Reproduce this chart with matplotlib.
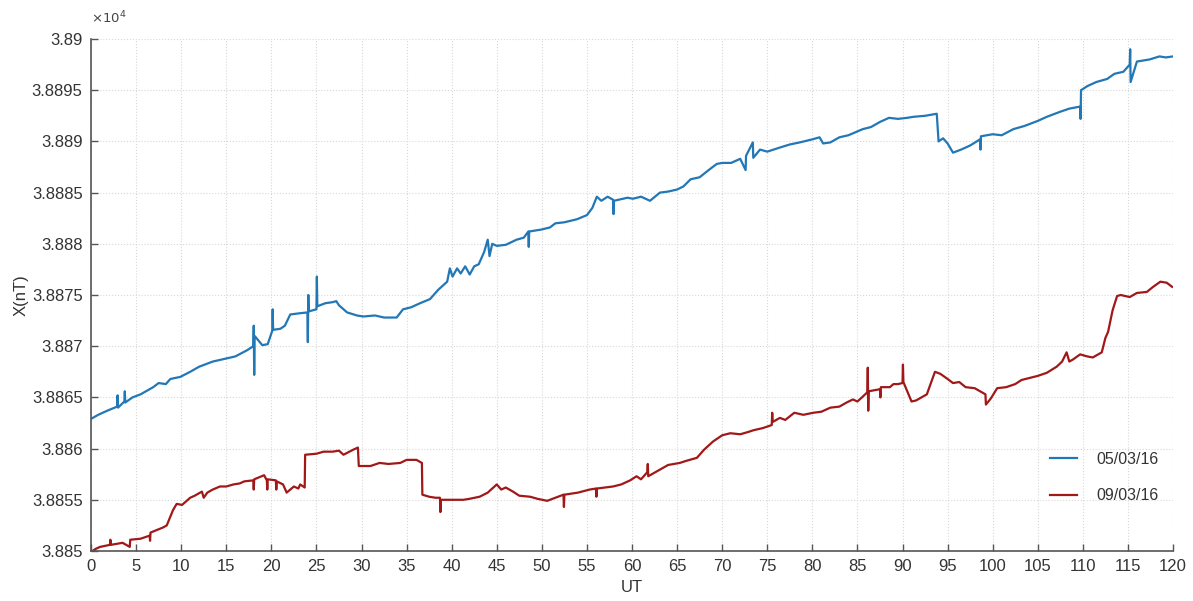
import matplotlib
matplotlib.use("Agg")
import matplotlib.pyplot as plt
from matplotlib.ticker import FuncFormatter, MultipleLocator

# ---- data (UT hours, X component in nT) ----
t_0503 = [0.0, 0.8, 1.8, 2.9, 2.95, 3.0, 3.7, 3.75, 3.8, 4.6, 5.5, 6.5, 6.9, 7.5, 8.3, 8.8, 9.9,
          11.0, 12.0, 13.5, 15.0, 16.0, 17.3, 18.0, 18.05, 18.1, 18.15, 19.0, 19.6, 20.1, 20.15, 20.2,
          21.0, 21.5, 22.1, 23.0, 24.0, 24.05, 24.1, 24.15, 25.0, 25.05, 25.1, 26.0, 26.8, 27.2, 27.5,
          28.4, 29.5, 30.2, 31.5, 32.5, 33.9, 34.6, 35.5, 36.5, 37.6, 38.5, 39.5, 39.8, 40.1, 40.6,
          41.0, 41.5, 42.0, 42.5, 43.0, 43.6, 44.0, 44.2, 44.5, 45.0, 46.0, 47.2, 48.0, 48.5, 48.55,
          48.6, 50.0, 50.9, 51.5, 52.5, 53.9, 55.0, 55.6, 56.1, 56.6, 57.3, 57.9, 57.95, 58.0, 59.5,
          60.1, 61.0, 62.0, 63.1, 64.0, 65.0, 65.7, 66.5, 67.5, 68.5, 69.4, 70.0, 71.0, 72.0, 72.6,
          72.65, 73.4, 73.45, 74.2, 75.0, 76.4, 77.5, 78.6, 80.0, 80.8, 81.2, 82.0, 83.0, 84.0, 85.6,
          86.5, 87.5, 88.5, 89.5, 90.5, 91.2, 92.5, 93.8, 94.0, 94.5, 95.0, 95.6, 96.5, 97.5, 98.6,
          98.65, 98.7, 100.0, 101.0, 102.3, 103.5, 105.0, 106.0, 107.5, 108.5, 109.7, 109.75, 109.8,
          110.5, 111.5, 112.7, 113.5, 114.5, 115.2, 115.25, 115.3, 116.0, 117.4, 118.5, 119.2, 120.0]
x_0503 = [38862.9, 38863.3, 38863.7, 38864.1, 38865.2, 38864.0, 38864.6, 38865.6, 38864.5, 38865.0,
          38865.3, 38865.8, 38866.0, 38866.4, 38866.3, 38866.8, 38867.0, 38867.5, 38868.0, 38868.5,
          38868.8, 38869.0, 38869.6, 38870.0, 38872.0, 38867.2, 38871.0, 38870.1, 38870.2, 38871.5,
          38873.6, 38871.6, 38871.7, 38872.0, 38873.1, 38873.2, 38873.3, 38870.4, 38875.0, 38873.4,
          38873.6, 38876.8, 38873.9, 38874.2, 38874.3, 38874.4, 38874.0, 38873.3, 38873.0, 38872.9,
          38873.0, 38872.8, 38872.8, 38873.6, 38873.8, 38874.2, 38874.6, 38875.5, 38876.3, 38877.6,
          38876.8, 38877.6, 38877.1, 38877.8, 38877.0, 38877.8, 38878.0, 38879.2, 38880.4, 38878.8,
          38880.0, 38879.8, 38879.9, 38880.4, 38880.6, 38881.2, 38879.7, 38881.2, 38881.4, 38881.6,
          38882.0, 38882.1, 38882.4, 38882.8, 38883.5, 38884.6, 38884.2, 38884.6, 38884.3, 38882.9,
          38884.2, 38884.5, 38884.4, 38884.6, 38884.2, 38885.0, 38885.1, 38885.3, 38885.6, 38886.3,
          38886.5, 38887.2, 38887.8, 38887.9, 38887.9, 38888.3, 38887.2, 38888.6, 38889.9, 38888.4,
          38889.2, 38889.0, 38889.4, 38889.7, 38889.9, 38890.2, 38890.4, 38889.8, 38889.9, 38890.4,
          38890.6, 38891.2, 38891.4, 38891.9, 38892.3, 38892.2, 38892.3, 38892.4, 38892.5, 38892.7,
          38890.0, 38890.3, 38889.8, 38888.9, 38889.2, 38889.6, 38890.2, 38889.2, 38890.5, 38890.7,
          38890.6, 38891.2, 38891.5, 38892.0, 38892.4, 38892.9, 38893.2, 38893.4, 38892.2, 38895.0,
          38895.4, 38895.8, 38896.1, 38896.6, 38896.8, 38897.5, 38899.0, 38895.8, 38897.8, 38898.0,
          38898.3, 38898.2, 38898.3]

t_0903 = [0.0, 0.5, 1.0, 2.1, 2.15, 2.2, 3.5, 4.3, 4.35, 5.5, 6.5, 6.55, 6.6, 8.0, 8.4, 9.1, 9.5,
          10.1, 11.0, 11.5, 12.3, 12.5, 12.9, 13.5, 14.3, 15.0, 15.8, 16.5, 17.0, 18.0, 18.05, 18.1,
          19.2, 19.5, 19.55, 19.6, 20.5, 20.55, 20.6, 21.3, 21.7, 22.5, 23.0, 23.2, 23.7, 23.75, 25.0,
          25.8, 26.8, 27.5, 28.0, 29.1, 29.6, 29.7, 31.0, 32.0, 33.0, 34.3, 35.0, 36.1, 36.7, 36.75,
          37.5, 38.2, 38.7, 38.75, 38.8, 40.0, 41.3, 42.0, 43.1, 44.0, 45.0, 45.5, 46.0, 46.8, 47.5,
          48.7, 49.5, 50.6, 51.5, 52.4, 52.45, 52.5, 54.0, 55.3, 56.0, 56.05, 56.1, 57.9, 58.8, 59.8,
          60.5, 61.0, 61.7, 61.75, 61.8, 63.4, 64.0, 65.3, 66.0, 67.2, 68.0, 69.0, 70.0, 70.9, 72.0,
          72.8, 73.5, 74.5, 75.5, 75.55, 75.6, 76.4, 77.0, 78.0, 79.0, 80.1, 81.0, 82.0, 83.0, 83.8,
          84.5, 85.0, 85.5, 86.1, 86.15, 86.2, 86.25, 87.5, 87.55, 87.6, 88.6, 89.0, 89.5, 90.0, 90.05,
          90.1, 91.0, 91.5, 92.7, 93.6, 94.2, 95.0, 95.6, 96.3, 97.0, 98.0, 98.6, 99.2, 99.25, 99.8,
          100.5, 101.5, 102.5, 103.2, 104.1, 105.0, 106.0, 107.1, 107.7, 108.2, 108.5, 108.9, 109.7,
          110.5, 111.1, 112.1, 112.5, 112.8, 113.3, 113.8, 114.2, 115.2, 116.0, 117.1, 117.8, 118.6,
          119.3, 119.9]
x_0903 = [38849.9, 38850.2, 38850.4, 38850.6, 38851.1, 38850.6, 38850.8, 38850.4, 38851.1, 38851.2,
          38851.5, 38851.0, 38851.8, 38852.3, 38852.5, 38854.0, 38854.6, 38854.5, 38855.2, 38855.4,
          38855.8, 38855.2, 38855.7, 38856.0, 38856.3, 38856.3, 38856.5, 38856.6, 38856.8, 38856.9,
          38856.0, 38857.0, 38857.4, 38856.9, 38856.0, 38857.0, 38856.9, 38856.0, 38856.8, 38856.5,
          38855.7, 38856.3, 38856.1, 38856.5, 38856.2, 38859.4, 38859.5, 38859.7, 38859.7, 38859.8,
          38859.4, 38859.9, 38860.1, 38858.3, 38858.3, 38858.6, 38858.5, 38858.6, 38858.9, 38858.9,
          38858.6, 38855.5, 38855.3, 38855.2, 38855.2, 38853.8, 38855.0, 38855.0, 38855.0, 38855.1,
          38855.3, 38855.7, 38856.5, 38856.0, 38856.2, 38855.8, 38855.4, 38855.3, 38855.1, 38854.9,
          38855.2, 38855.5, 38854.3, 38855.5, 38855.7, 38856.0, 38856.1, 38855.3, 38856.1, 38856.3,
          38856.5, 38856.9, 38857.3, 38857.0, 38857.7, 38858.5, 38857.3, 38858.1, 38858.4, 38858.6,
          38858.8, 38859.1, 38859.9, 38860.7, 38861.3, 38861.5, 38861.4, 38861.6, 38861.8, 38862.0,
          38862.3, 38863.5, 38862.6, 38863.0, 38862.8, 38863.5, 38863.3, 38863.5, 38863.6, 38864.0,
          38864.1, 38864.5, 38864.8, 38864.6, 38865.0, 38865.5, 38867.9, 38863.7, 38865.6, 38865.8,
          38865.0, 38866.0, 38866.0, 38866.3, 38866.3, 38866.4, 38868.2, 38866.5, 38864.6, 38864.7,
          38865.3, 38867.5, 38867.3, 38866.8, 38866.4, 38866.5, 38866.0, 38865.9, 38865.6, 38865.3,
          38864.3, 38864.9, 38865.9, 38866.0, 38866.3, 38866.7, 38866.9, 38867.1, 38867.4, 38868.0,
          38868.5, 38869.4, 38868.5, 38868.7, 38869.2, 38869.0, 38868.9, 38869.4, 38870.8, 38871.4,
          38873.5, 38874.9, 38875.0, 38874.8, 38875.2, 38875.3, 38875.8, 38876.3, 38876.2, 38875.8]

labels = ["05/03/16", "09/03/16"]
x_label = "UT"
y_label = "X(nT)"

# ---- figure ----
plt.rcParams['font.family'] = ['Liberation Sans', 'DejaVu Sans']
fig = plt.figure(figsize=(11.93, 6.01), dpi=100)
ax = fig.add_axes([91/1193, 50/601, (1173-91)/1193, (551-39)/601])

ax.plot(t_0503, x_0503, color='#2277b6', lw=1.6, label=labels[0])
ax.plot(t_0903, x_0903, color='#a01818', lw=1.6, label=labels[1])

ax.set_xlim(0, 120)
ax.set_ylim(38850, 38900)
ax.xaxis.set_major_locator(MultipleLocator(5))
ax.yaxis.set_major_locator(MultipleLocator(5))
ax.yaxis.set_major_formatter(FuncFormatter(lambda v, p: f"{v/1e4:g}"))

ax.grid(True, color='#d8d8d8', linestyle=':', linewidth=0.8)
for s in ['top', 'right']:
    ax.spines[s].set_visible(False)
for s in ['left', 'bottom']:
    ax.spines[s].set_color('#555555')
    ax.spines[s].set_linewidth(1.2)
ax.tick_params(direction='in', length=5, width=1.0, color='#555555',
               labelsize=12, labelcolor='#333333', pad=6)

ax.text(0.0, 1.025, r'$\times10^4$', transform=ax.transAxes, fontsize=9.5,
        color='#444444', ha='left', va='bottom')

ax.set_xlabel(x_label, fontsize=12, color='#333333', labelpad=4)
ax.set_ylabel(y_label, fontsize=12, color='#333333', labelpad=2)

leg = ax.legend(loc='lower right', bbox_to_anchor=(1.0, 0.065), frameon=False,
                fontsize=11.5, handlelength=1.7, labelspacing=1.35, handletextpad=1.2)
for txt in leg.get_texts():
    txt.set_color('#333333')

fig.savefig('out.png', dpi=100)
